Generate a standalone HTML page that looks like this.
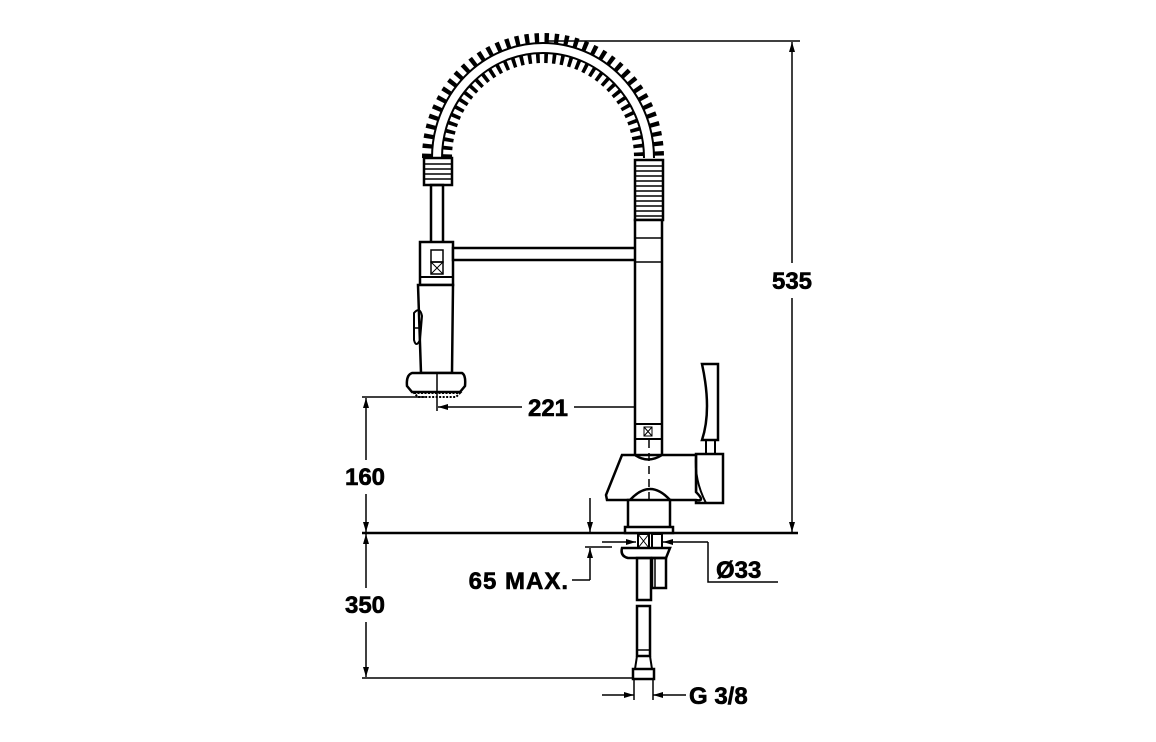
<!DOCTYPE html>
<html><head><meta charset="utf-8"><style>
html,body{margin:0;padding:0;background:#fff;}
svg{display:block}
text{font-family:"Liberation Sans",Arial,sans-serif;font-weight:bold;fill:#000;stroke:#000;stroke-width:0.6}
</style></head><body>
<svg width="1156" height="742" viewBox="0 0 1156 742" xmlns="http://www.w3.org/2000/svg">
<defs>
<marker id="a" viewBox="0 0 10 6" refX="10" refY="3" markerWidth="11" markerHeight="6" orient="auto-start-reverse" markerUnits="userSpaceOnUse"><path d="M0,0 L10,3 L0,6 Z" fill="#000"/></marker>
</defs>
<g stroke="#000" fill="none">
<line x1="547" y1="41" x2="800" y2="41" stroke-width="1.5"/>
<line x1="792" y1="42" x2="792" y2="263" stroke-width="1.5" marker-start="url(#a)"/>
<line x1="792" y1="298" x2="792" y2="532" stroke-width="1.5" marker-end="url(#a)"/>
<line x1="362" y1="533" x2="798" y2="533" stroke-width="2.5"/>
<line x1="362" y1="397" x2="425" y2="397" stroke-width="1.5"/>
<line x1="366" y1="398" x2="366" y2="460" stroke-width="1.5" marker-start="url(#a)"/>
<line x1="366" y1="494" x2="366" y2="532" stroke-width="1.5" marker-end="url(#a)"/>
<line x1="366" y1="534" x2="366" y2="588" stroke-width="1.5" marker-start="url(#a)"/>
<line x1="366" y1="622" x2="366" y2="677" stroke-width="1.5" marker-end="url(#a)"/>
<line x1="362" y1="678" x2="642" y2="678" stroke-width="1.5"/>
<line x1="437" y1="393" x2="437" y2="411" stroke-width="1.5"/>
<line x1="438" y1="407" x2="522" y2="407" stroke-width="1.5" marker-start="url(#a)"/>
<line x1="574" y1="407" x2="647" y2="407" stroke-width="1.5" marker-end="url(#a)"/>
<line x1="590" y1="498" x2="590" y2="532" stroke-width="1.5" marker-end="url(#a)"/>
<line x1="590" y1="580" x2="590" y2="548" stroke-width="1.5" marker-end="url(#a)"/>
<line x1="585" y1="547" x2="612" y2="547" stroke-width="1.5"/>
<line x1="572" y1="580" x2="590" y2="580" stroke-width="1.5"/>
<line x1="602" y1="542" x2="636" y2="542" stroke-width="1.5" marker-end="url(#a)"/>
<line x1="708" y1="542" x2="663" y2="542" stroke-width="1.5" marker-end="url(#a)"/>
<polyline points="708,542 708,582 778,582" stroke-width="1.5"/>
<line x1="602" y1="695" x2="634" y2="695" stroke-width="1.5" marker-end="url(#a)"/>
<line x1="686" y1="695" x2="653" y2="695" stroke-width="1.5" marker-end="url(#a)"/>
<path d="M437 158 A106 110 0 0 1 649 158" stroke-width="30" stroke-dasharray="4 5"/>
<path d="M437 158 A106 110 0 0 1 649 158" stroke="#fff" stroke-width="11"/>
<path d="M442 158 A101 105 0 0 1 644 158" stroke-width="2"/>
<path d="M432 158 A111 115 0 0 1 654 158" stroke-width="2"/>
<rect x="424" y="158" width="28" height="27" fill="#fff" stroke-width="2.5"/>
<g stroke-width="1.5"><line x1="424" y1="164" x2="452" y2="164"/><line x1="424" y1="169" x2="452" y2="169"/><line x1="424" y1="174" x2="452" y2="174"/><line x1="424" y1="179" x2="452" y2="179"/></g>
<rect x="635" y="160" width="28" height="60" fill="#fff" stroke-width="2.5"/>
<g stroke-width="1.5">
<line x1="635" y1="166" x2="663" y2="166"/><line x1="635" y1="171" x2="663" y2="171"/><line x1="635" y1="176" x2="663" y2="176"/><line x1="635" y1="181" x2="663" y2="181"/><line x1="635" y1="186" x2="663" y2="186"/><line x1="635" y1="191" x2="663" y2="191"/><line x1="635" y1="196" x2="663" y2="196"/><line x1="635" y1="201" x2="663" y2="201"/><line x1="635" y1="206" x2="663" y2="206"/><line x1="635" y1="211" x2="663" y2="211"/><line x1="635" y1="216" x2="663" y2="216"/></g>
<rect x="431" y="185" width="12" height="60" stroke-width="2.5"/>
<rect x="420" y="242" width="33" height="43" fill="#fff" stroke-width="2.5"/>
<line x1="420" y1="277" x2="453" y2="277" stroke-width="2"/>
<rect x="431" y="250" width="12" height="12" stroke-width="1.5"/>
<rect x="431" y="262" width="12" height="12" stroke-width="1.5"/>
<path d="M431 262 L443 274 M443 262 L431 274" stroke-width="1"/>
<rect x="453" y="248" width="183" height="12" fill="#fff" stroke-width="2.5"/>
<rect x="635" y="220" width="27" height="235" fill="#fff" stroke-width="2.5"/>
<line x1="635" y1="238" x2="662" y2="238" stroke-width="1.5"/>
<line x1="635" y1="262" x2="662" y2="262" stroke-width="1.5"/>
<rect x="635" y="424" width="27" height="15" stroke-width="2"/>
<rect x="644" y="427" width="8" height="9" stroke-width="1"/>
<path d="M644 427 L652 436 M652 427 L644 436" stroke-width="1"/>
<path d="M418 285 L453 285 L452 373 L421 373 Z" fill="#fff" stroke-width="2.5"/>
<path d="M414 313 Q420 306 422 316 L420 340 Q416 348 414 340 Z" stroke-width="2"/>
<line x1="413" y1="328" x2="420" y2="328" stroke-width="1.5"/>
<path d="M412 373 L462 373 Q466 375 465 386 L460 392 L412 392 L407 386 Q406 375 412 373 Z" fill="#fff" stroke-width="2.5"/>
<line x1="437" y1="373" x2="437" y2="392" stroke-width="1.5"/>
<path d="M414 393 L460 393 L456 397 L418 397 Z" stroke-width="2" stroke-dasharray="2 1.5"/>
<path d="M702 364 L718 364 L718 440 L702 440 Q712 410 702 364 Z" fill="#fff" stroke-width="2.5"/>
<rect x="706" y="440" width="9" height="15" stroke-width="2"/>
<rect x="696" y="454" width="27" height="49" fill="#fff" stroke-width="2.5"/>
<path d="M622 455 L635 455 Q648 464 662 455 L696 455 L696 492 Q706 502 696 500 L670 500 Q650 478 630 500 L607 500 L606 495 Z" fill="#fff" stroke-width="2.5"/>
<path d="M696 455 Q694 480 706 503" stroke-width="2"/>
<line x1="649" y1="440" x2="649" y2="525" stroke-width="1.5" stroke-dasharray="8 5"/>
<rect x="628" y="500" width="42" height="28" fill="#fff" stroke-width="2.5"/>
<rect x="625" y="527" width="48" height="6" fill="#fff" stroke-width="2.5"/>
<rect x="638" y="534" width="11" height="14" stroke-width="2"/>
<path d="M638 534 L649 548 M649 534 L638 548" stroke-width="1"/>
<rect x="652" y="534" width="10" height="14" stroke-width="2"/>
<path d="M622 548 L670 548 L666 558 L628 558 Q620 556 622 548 Z" fill="#fff" stroke-width="2.5"/>
<rect x="637" y="558" width="14" height="42" stroke-width="2.5"/>
<rect x="652" y="558" width="14" height="30" stroke-width="2.5"/>
<line x1="655" y1="558" x2="655" y2="588" stroke-width="1.5"/>
<rect x="637" y="606" width="13" height="50" stroke-width="2.5"/>
<line x1="637" y1="650" x2="650" y2="650" stroke-width="1.5"/>
<rect x="633" y="669" width="21" height="10" fill="#fff" stroke-width="2.5"/>
<line x1="634" y1="679" x2="634" y2="700" stroke-width="1.5"/>
<line x1="653" y1="679" x2="653" y2="700" stroke-width="1.5"/>
<line x1="637" y1="656" x2="635" y2="669" stroke-width="2"/>
<line x1="650" y1="656" x2="652" y2="669" stroke-width="2"/>
</g>
<text x="792" y="289" font-size="24" text-anchor="middle">535</text>
<text x="365" y="485" font-size="24" text-anchor="middle">160</text>
<text x="365" y="613" font-size="24" text-anchor="middle">350</text>
<text x="548" y="416" font-size="24" text-anchor="middle">221</text>
<text x="569" y="589" font-size="24" text-anchor="end" letter-spacing="1">65 MAX.</text>
<text x="716" y="578" font-size="24">Ø33</text>
<text x="689" y="704" font-size="24">G 3/8</text>
</svg>
</body></html>
